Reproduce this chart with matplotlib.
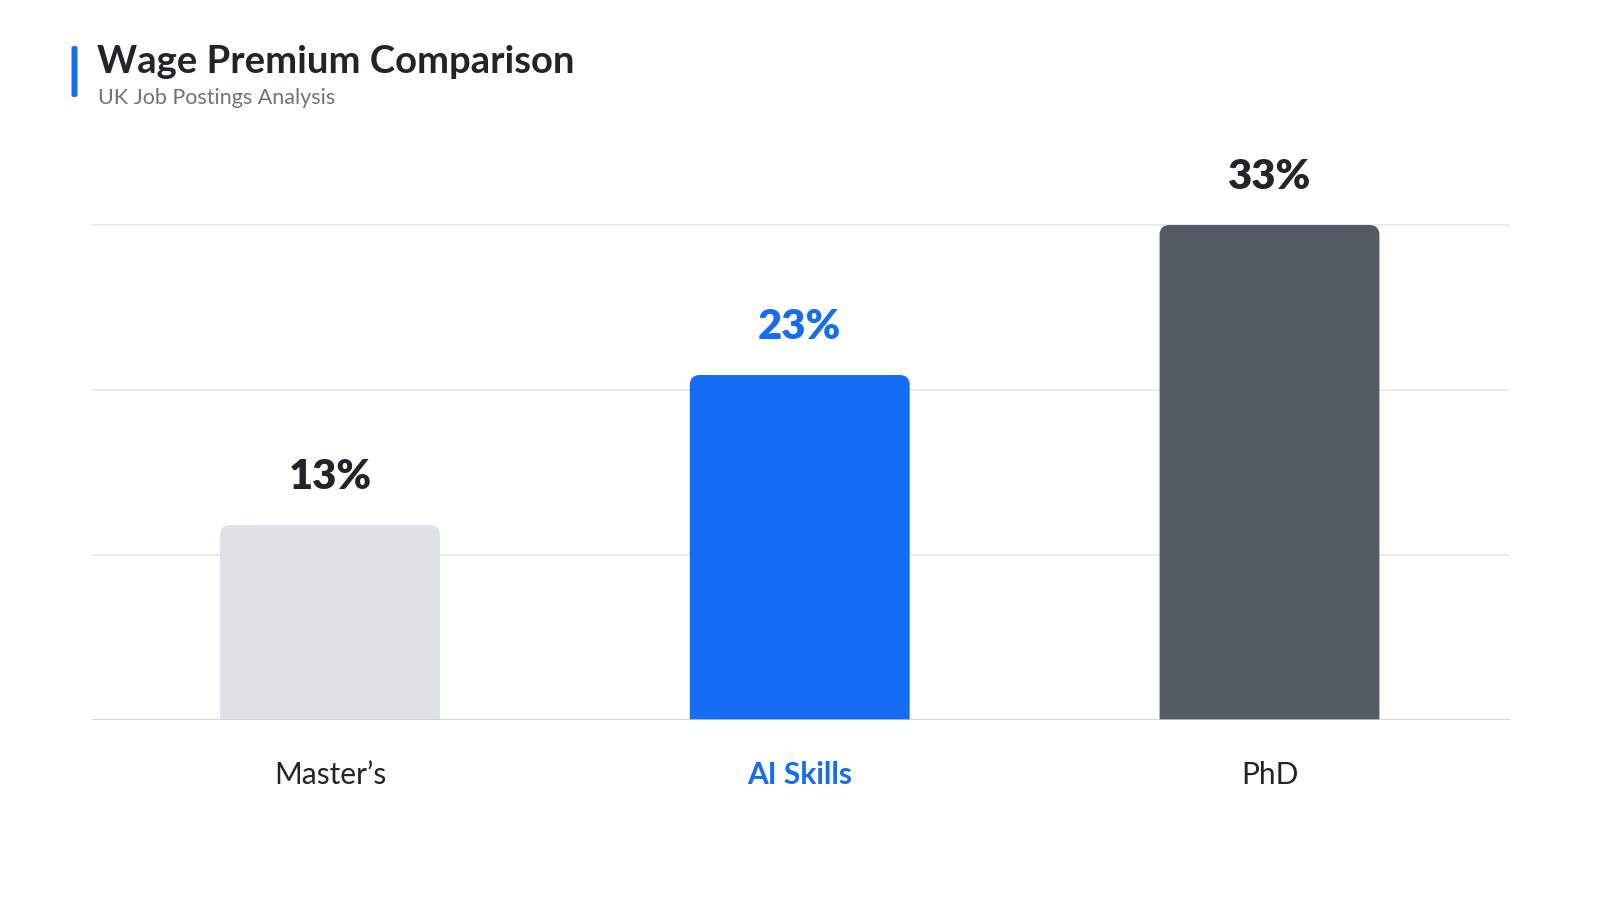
import matplotlib
matplotlib.use("Agg")
import matplotlib.pyplot as plt
from matplotlib.patches import FancyBboxPatch, PathPatch
from matplotlib.path import Path

categories = ["Master\u2019s", "AI Skills", "PhD"]
values = [13, 23, 33]
value_labels = ["13%", "23%", "33%"]
bar_colors = ["#DEE2E6", "#166DF5", "#545B64"]
label_colors = ["#212529", "#166DF5", "#212529"]
cat_weights = ["normal", "bold", "normal"]
grid_ticks = [11, 22, 33]

plt.rcParams['font.family'] = ['Lato', 'DejaVu Sans']

W, H, DPI = 1600, 900, 100
fig = plt.figure(figsize=(W / DPI, H / DPI), dpi=DPI)
fig.patch.set_facecolor("white")

ax_l, ax_r, ax_b, ax_t = 92, 1510, 720, 120
YMAX = 40
ax = fig.add_axes([ax_l / W, 1 - ax_b / H, (ax_r - ax_l) / W, (ax_b - ax_t) / H])
ax.set_xlim(-0.5067, 2.512)
ax.set_ylim(0, YMAX)
for s in ax.spines.values():
    s.set_visible(False)
ax.set_xticks([])
ax.set_yticks([])
for g in grid_ticks:
    ax.axhline(g, color="#EBEBEB", lw=1.3, zorder=0)
ax.axhline(0, color="#C9CCD0", lw=1.8, zorder=3)

x = list(range(len(categories)))
bw = 0.468
bars = ax.bar(x, values, width=bw, color=bar_colors, zorder=1)
px_x = (ax_r - ax_l) / (ax.get_xlim()[1] - ax.get_xlim()[0])
px_y = (ax_b - ax_t) / YMAX
r_px = 10
rx, ry = r_px / px_x, r_px / px_y
for b, c in zip(bars, bar_colors):
    b.set_visible(False)
    x0, w, h = b.get_x(), b.get_width(), b.get_height()
    x1 = x0 + w
    verts = [(x0, 0), (x0, h - ry), (x0, h), (x0 + rx, h), (x1 - rx, h),
             (x1, h), (x1, h - ry), (x1, 0), (x0, 0)]
    codes = [Path.MOVETO, Path.LINETO, Path.CURVE3, Path.CURVE3, Path.LINETO,
             Path.CURVE3, Path.CURVE3, Path.LINETO, Path.CLOSEPOLY]
    ax.add_patch(PathPatch(Path(verts, codes), fc=c, ec="none", zorder=2))

for xi, v, lab, col in zip(x, values, value_labels, label_colors):
    ax.annotate(lab, xy=(xi, v), xytext=(0, 36.5 * 0.72), textcoords="offset points",
                ha="center", va="baseline", fontsize=30, fontweight="heavy", color=col)

for xi, cat, col, wt in zip(x, categories, label_colors, cat_weights):
    ax.annotate(cat, xy=(xi, 0), xytext=(0, -64 * 0.72), textcoords="offset points",
                ha="center", va="baseline", fontsize=21.5, fontweight=wt, color=col,
                annotation_clip=False)

# Title block
fig.add_artist(FancyBboxPatch((71.5 / W, 1 - 97 / H), 6 / W, 51 / H,
                              boxstyle="round,pad=0,rounding_size=0.0018",
                              transform=fig.transFigure, fc="#166DF5", ec="none"))
fig.text(97 / W, 1 - 73 / H, "Wage Premium Comparison", fontsize=27.5, fontweight="bold",
         color="#212529", ha="left", va="baseline")
fig.text(98 / W, 1 - 104 / H, "UK Job Postings Analysis", fontsize=15.5,
         color="#6C757D", ha="left", va="baseline")

fig.savefig("out.png", dpi=DPI, facecolor="white")
